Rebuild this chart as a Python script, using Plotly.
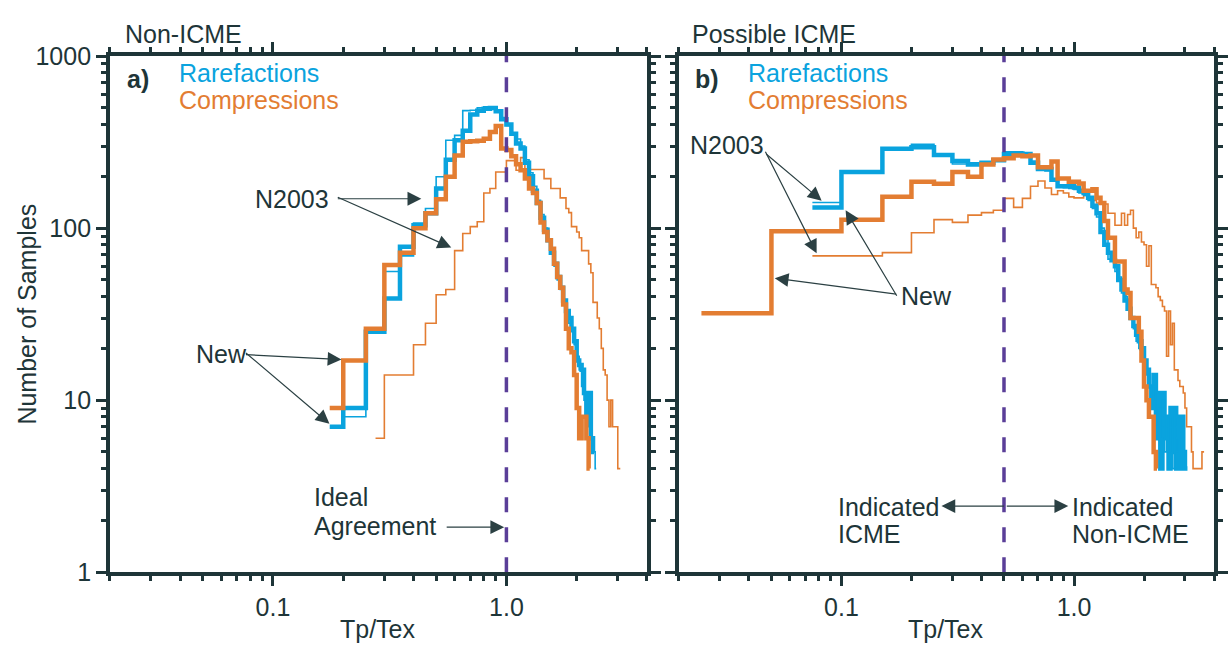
import math
import plotly.graph_objects as go

# ---------------- data (bin centers start + counts, 0.05 wide bins) ----------------
BIN_WIDTH = 0.05

# Panel a) Non-ICME
A_RARE_NEW_START = 0.175
A_RARE_NEW = [7, 9, 25, 39, 78, 104, 122, 170, 250, 324, 368, 457, 482, 494, 500, 478, 429,
              400, 354, 310, 290, 240, 200, 165, 140, 115, 98, 85, 72, 62, 52, 45, 38, 33, 30,
              26, 22, 17, 16, 15, 11, 8, 11, 6, 5]
A_RARE_N03_START = 0.225
A_RARE_N03 = [8, 25, 56, 69, 107, 130, 199, 324, 346, 482, 485, 500, 507, 500, 480, 440, 395,
              350, 330, 300, 250, 210, 175, 145, 120, 100, 85, 72, 60, 50, 44, 38, 33, 28, 25,
              21, 18, 15, 12, 10, 9, 7, 6, 5, 4]
A_COMP_NEW_START = 0.175
A_COMP_NEW = [9, 17, 26, 61, 72, 100, 122, 147, 199, 264, 318, 320, 322, 331, 362, 392, 290,
              285, 262, 235, 217, 194, 170, 160, 140, 108, 95, 85, 76, 62, 52, 45, 36, 26, 20,
              19, 14, 9, 6, 8, 8, 6, 4]
A_COMP_N03_START = 0.275
A_COMP_N03 = [6, 14, 14, 21, 28, 41, 44, 74, 93, 102, 109, 160, 170, 212, 212, 247, 247, 217,
              257, 217, 219, 219, 219, 219, 194, 194, 170, 170, 170, 150, 150, 130, 123, 102,
              102, 95, 88, 74, 74, 74, 62, 55, 37, 37, 30, 26, 20, 15, 14, 10, 7, 10, 7, 7, 7,
              4, 4]

# Panel b) Possible ICME
B_RARE_NEW_START = 0.075
B_RARE_NEW = [132, 212, 289, 295, 266, 246, 234, 240, 248, 270, 272, 270, 240, 221, 221, 191,
              175, 175, 175, 172, 165, 160, 150, 135, 122, 95, 80, 72, 65, 60, 50, 44, 38, 34,
              30, 27, 24, 22, 20, 17, 15, 12, 9, 14, 6, 11, 4, 11, 6, 8, 4, 9, 5, 9, 4, 8, 4,
              8, 5, 4, 4]
B_RARE_N03_START = 0.075
B_RARE_N03 = [141, 212, 292, 307, 268, 236, 240, 236, 252, 278, 278, 268, 245, 228, 215, 192,
              178, 172, 170, 168, 160, 155, 145, 130, 116, 100, 88, 66, 70, 56, 52, 42, 40, 34,
              30, 26, 22, 20, 18, 17, 14, 12, 10, 12, 7, 9, 6, 10, 5, 8, 5, 8, 4, 9, 5, 6, 4,
              6, 4]
B_COMP_NEW_START = 0.025
B_COMP_NEW = [32, 96, 112, 152, 186, 181, 212, 199, 234, 251, 255, 264, 262, 264, 226, 226,
              244, 194, 194, 186, 186, 182, 165, 165, 168, 150, 140, 110, 88, 88, 64, 64, 64,
              44, 42, 30, 30, 30, 25, 17, 12, 10, 8, 8, 5, 4]
B_COMP_N03_START = 0.075
B_COMP_N03 = [69, 69, 72, 94, 112, 108, 119, 123, 127, 149, 132, 149, 175, 188, 171, 157, 165,
              160, 152, 150, 150, 155, 148, 145, 140, 138, 138, 122, 122, 104, 104, 122, 104,
              120, 127, 100, 88, 95, 83, 80, 60, 79, 47, 47, 45, 40, 38, 35, 33, 18, 33, 21,
              28, 15, 15, 13, 12, 12, 11, 9, 7, 7, 7, 5, 4, 4, 4, 4, 4, 4, 5, 5]

A_REFERENCE_X = 1.0   # ideal agreement
B_REFERENCE_X = 0.5   # ICME threshold

X_MAJOR = [0.1, 1.0]
X_LABELS = ["0.1", "1.0"]
X_MINOR = [0.02, 0.03, 0.04, 0.05, 0.06, 0.07, 0.08, 0.09,
           0.2, 0.3, 0.4, 0.5, 0.6, 0.7, 0.8, 0.9, 2, 3, 4]
Y_MAJOR = [1, 10, 100, 1000]
Y_LABELS = ["1", "10", "100", "1000"]
Y_MINOR = [2, 3, 4, 5, 6, 7, 8, 9, 20, 30, 40, 50, 60, 70, 80, 90,
           200, 300, 400, 500, 600, 700, 800, 900]

# ---------------- styling ----------------
W, H = 1228, 657
DARK = "#1e3538"
BLUE = "#0aa3de"
ORANGE = "#e37d32"
PURPLE = "#5a3e98"
FONT = "Liberation Sans, Arial, Helvetica, sans-serif"
FS = 25


def steps(start, counts, lead=0.0):
    centers = [start + i * BIN_WIDTH for i in range(len(counts))]
    xs = [centers[0] - lead]
    xs += [(centers[i] + centers[i + 1]) / 2 for i in range(len(centers) - 1)]
    xs += [centers[-1]]
    ys = list(counts) + [counts[-1]]
    return xs, ys


fig = go.Figure()


def add_hist(start, counts, color, width, xa, ya, lead=0.0):
    xs, ys = steps(start, counts, lead)
    fig.add_trace(go.Scatter(x=xs, y=ys, mode="lines", line=dict(color=color, width=width, shape="hv"),
                             xaxis=xa, yaxis=ya, showlegend=False, hoverinfo="skip"))


# panel a
add_hist(A_COMP_N03_START, A_COMP_N03, ORANGE, 1.6, "x", "y")
add_hist(A_RARE_N03_START, A_RARE_N03, BLUE, 1.6, "x", "y", lead=BIN_WIDTH / 2)
add_hist(A_RARE_NEW_START, A_RARE_NEW, BLUE, 4.5, "x", "y")
add_hist(A_COMP_NEW_START, A_COMP_NEW, ORANGE, 4.5, "x", "y")
# panel b
add_hist(B_COMP_N03_START, B_COMP_N03, ORANGE, 1.6, "x2", "y2")
add_hist(B_RARE_NEW_START, B_RARE_NEW, BLUE, 4.5, "x2", "y2")
add_hist(B_RARE_N03_START, B_RARE_N03, BLUE, 1.6, "x2", "y2")
add_hist(B_COMP_NEW_START, B_COMP_NEW, ORANGE, 4.5, "x2", "y2")

# dashed reference lines
for xv, xa, ya in [(A_REFERENCE_X, "x", "y"), (B_REFERENCE_X, "x2", "y2")]:
    fig.add_trace(go.Scatter(x=[xv, xv], y=[1, 1000], mode="lines",
                             line=dict(color=PURPLE, width=3.5, dash="15px,15px"),
                             xaxis=xa, yaxis=ya, showlegend=False, hoverinfo="skip"))

axis_common = dict(type="log", showline=True, linecolor=DARK, linewidth=3.5, ticks="outside",
                   tickcolor=DARK, tickwidth=3, ticklen=10, mirror="allticks", showgrid=False,
                   zeroline=False, tickfont=dict(size=FS, color=DARK, family=FONT))
xcfg = dict(axis_common, range=[math.log10(0.02), math.log10(4)], tickmode="array",
            tickvals=X_MAJOR, ticktext=X_LABELS,
            minor=dict(tickmode="array", tickvals=X_MINOR, ticklen=5, tickwidth=3,
                       tickcolor=DARK, ticks="outside"))
ycfg = dict(axis_common, range=[0, 3], tickmode="array", tickvals=Y_MAJOR, ticktext=Y_LABELS,
            minor=dict(tickmode="array", tickvals=Y_MINOR, ticklen=5, tickwidth=3,
                       tickcolor=DARK, ticks="outside"))

ydom = [1 - 583 / H, 1 - 44 / H]
fig.update_layout(
    width=W, height=H, margin=dict(l=0, r=0, t=0, b=0),
    paper_bgcolor="white", plot_bgcolor="white",
    font=dict(family=FONT, size=FS, color=DARK),
    xaxis=dict(xcfg, domain=[110 / W, 648 / W], anchor="y"),
    yaxis=dict(ycfg, domain=ydom, anchor="x"),
    xaxis2=dict(xcfg, domain=[680 / W, 1216 / W], anchor="y2"),
    yaxis2=dict(ycfg, domain=ydom, anchor="x2", showticklabels=False),
)


def P(px, py):
    return px / W, 1 - py / H


def text(px, py, s, color=DARK, anchor="left", size=FS, bold=False, angle=0):
    x, y = P(px, py)
    fig.add_annotation(x=x, y=y, xref="paper", yref="paper", text=f"<b>{s}</b>" if bold else s,
                       showarrow=False, xanchor=anchor, yanchor="middle", textangle=angle,
                       font=dict(family=FONT, size=size, color=color))


def arrow(tail, head, color="#2b4043"):
    x, y = P(*head)
    fig.add_annotation(x=x, y=y, xref="paper", yref="paper", text="", showarrow=True,
                       ax=tail[0] - head[0], ay=tail[1] - head[1], arrowhead=2, arrowsize=2.3,
                       arrowwidth=1.2, arrowcolor=color, standoff=0, startstandoff=0)


# titles and labels
text(123, 21, "Non-ICME")
text(691, 21, "Possible ICME")
text(125, 68, "a)", bold=True)
text(694, 68, "b)", bold=True)
for x0 in (177, 747):
    text(x0, 62, "Rarefactions", color=BLUE)
    text(x0, 90, "Compressions", color=ORANGE)
text(379, 642, "Tp/Tex", anchor="center")
text(948, 642, "Tp/Tex", anchor="center")
text(27, 313, "Number of Samples", anchor="center", angle=-90)

# panel a annotations
text(253, 193, "N2003")
arrow((337, 193), (422, 193))
arrow((337, 193), (452, 244))
text(194, 355, "New")
arrow((245, 356), (342, 361))
arrow((245, 356), (330, 428))
text(313, 505, "Ideal")
text(313, 535, "Agreement")
arrow((446, 536), (505, 536))

# panel b annotations
text(689, 137, "N2003")
arrow((766, 147), (823, 195))
arrow((766, 147), (818, 250))
text(900, 295, "New")
arrow((899, 292), (847, 205))
arrow((899, 292), (776, 276))
text(837, 515, "Indicated")
text(837, 543, "ICME")
text(1072, 515, "Indicated")
text(1072, 543, "Non-ICME")
arrow((1007, 514), (943, 514))
arrow((1007, 514), (1070, 514))

fig.write_html("out.html")
